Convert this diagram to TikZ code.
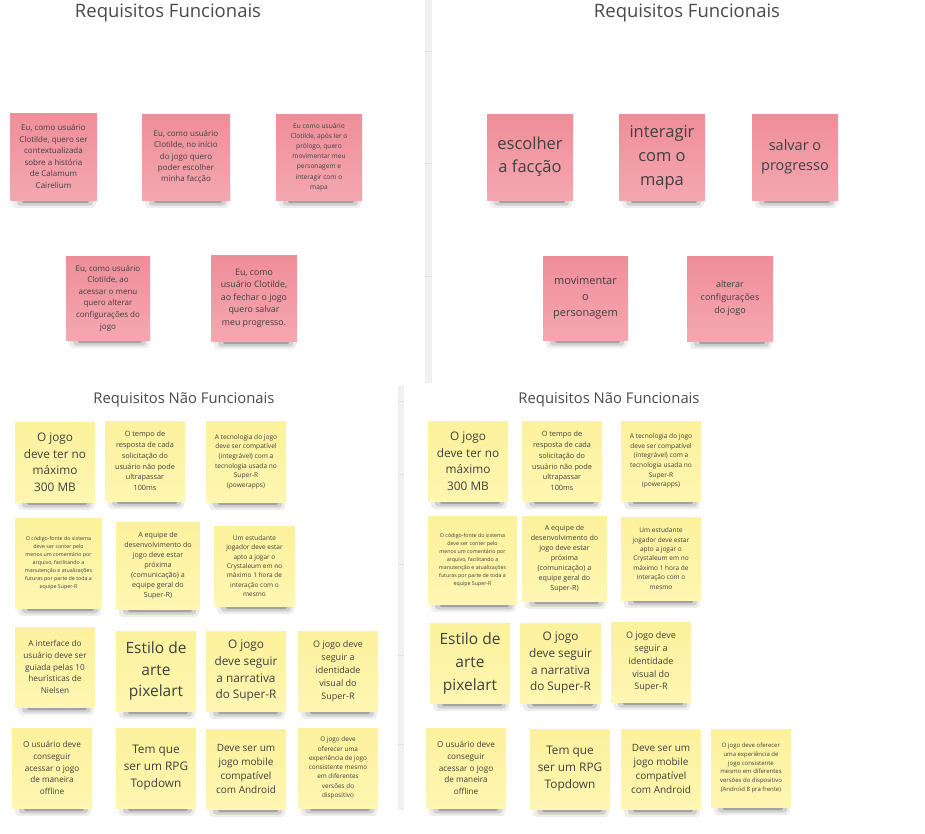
\documentclass[tikz,border=0pt]{standalone}
\usepackage{fontspec}
\setmainfont{Open Sans}
\definecolor{txtc}{HTML}{404040}
\definecolor{pinktop}{HTML}{EF8E99}
\definecolor{pinkbot}{HTML}{F4A7B0}
\definecolor{yeltop}{HTML}{FCF19C}
\definecolor{yelbot}{HTML}{FEF6B2}
\definecolor{divc}{HTML}{F0F0F0}
\definecolor{tickc}{HTML}{E0E0E0}
\definecolor{titlec}{HTML}{4A4A4A}
\tikzset{
  pinknote/.style={top color=pinktop,bottom color=pinkbot},
  yelnote/.style={top color=yeltop,bottom color=yelbot},
  title/.style={font=\fontsize{#1}{#1}\selectfont,text=titlec,inner sep=0pt},
}
\newcommand\note[9]{%
  \fill[black,opacity=0.07,rounded corners=4pt] ({#2+3},{#5-3}) rectangle ({#4-1},{#5+8});
  \fill[black,opacity=0.12,rounded corners=3pt] ({#2+7},{#5-2}) rectangle ({#4-4},{#5+5.5});
  \fill[black,opacity=0.22,rounded corners=2pt] ({#2+12},{#5-1}) rectangle ({#4-8},{#5+3});
  \node[#6,draw=none,rectangle,inner sep=1pt,align=center,text=txtc,
        minimum width={(#4-#2)*1pt},minimum height={(#5-#3)*1pt},
        font=\fontsize{#7}{#8}\selectfont] (#1) at ({(#2+#4)/2},{(#3+#5)/2}) {#9};%
}
\begin{document}
\begin{tikzpicture}[x=1pt,y=-1pt]
\useasboundingbox (0,0) rectangle (925,833);
\fill[white] (0,0) rectangle (925,833);
% dividers
\fill[divc] (425,0) rectangle (432,383);
\foreach \yy in {51,163,276} \draw[tickc,line width=0.6pt] (425,\yy) -- (432,\yy);
\fill[divc] (398,386) rectangle (404,810);
\foreach \yy in {401,474,564,655,744} \draw[tickc,line width=0.6pt] (398,\yy) -- (404,\yy);
% titles
\node[title=18.5] (t1) at (168,13) {Requisitos Funcionais};
\node[title=18.5] (t2) at (687,13) {Requisitos Funcionais};
\node[title=14.8] (t3) at (184,400) {Requisitos Não Funcionais};
\node[title=14.8] (t4) at (609,400) {Requisitos Não Funcionais};
% top-left pink
\note{p1}{10}{113}{97}{200}{pinknote}{8}{11.5}{Eu, como usuário\\Clotilde, quero ser\\contextualizada\\sobre a história\\de Calamum\\Cairelium}
\note{p2}{142}{114}{230}{200}{pinknote}{8}{11.3}{Eu, como usuário\\Clotilde, no início\\do jogo quero\\poder escolher\\minha facção}
\note{p3}{276}{114}{362}{200}{pinknote}{6.6}{10.2}{Eu como usuário\\Clotilde, após ler o\\prólogo, quero\\movimentar meu\\personagem e\\interagir com o\\mapa}
\note{p4}{66}{256}{150}{340}{pinknote}{8}{11.6}{Eu, como usuário\\Clotilde, ao\\acessar o menu\\quero alterar\\configurações do\\jogo}
\note{p5}{211}{255}{297}{341}{pinknote}{8.8}{12.5}{Eu, como\\usuário Clotilde,\\ao fechar o jogo\\quero salvar\\meu progresso.}
% top-right pink
\note{p6}{487}{114}{573}{200}{pinknote}{16.5}{23}{escolher\\a facção}
\note{p7}{619}{114}{705}{200}{pinknote}{16.5}{24}{interagir\\com o\\mapa}
\note{p8}{752}{114}{838}{200}{pinknote}{14.5}{20}{salvar o\\progresso}
\note{p9}{543}{256}{628}{340}{pinknote}{11}{16}{movimentar\\o\\personagem}
\note{p10}{687}{256}{773}{341}{pinknote}{9}{13}{alterar\\configurações\\do jogo}
% bottom-left yellow
\note{a1}{15}{422}{95}{502}{yelnote}{11.8}{16.5}{O jogo\\deve ter no\\máximo\\300 MB}
\note{b1}{105}{421}{185}{501}{yelnote}{7.3}{10.7}{O tempo de\\resposta de cada\\solicitação do\\usuário não pode\\ultrapassar\\100ms}
\note{c1}{206}{421}{286}{502}{yelnote}{6.6}{9.6}{A tecnologia do jogo\\deve ser compatível\\(integrável) com a\\tecnologia usada no\\Super-R\\(powerapps)}
\note{d1}{15}{518}{102}{608}{yelnote}{5.3}{8}{O código-fonte do sistema\\deve ser conter pelo\\menos um comentário por\\arquivo, facilitando a\\manutenção e atualizações\\futuras por parte de toda a\\equipe Super-R}
\note{e1}{116}{522}{200}{609}{yelnote}{7.1}{10}{A equipe de\\desenvolvimento do\\jogo deve estar\\próxima\\(comunicação) a\\equipe geral do\\Super-R)}
\note{f1}{214}{526}{295}{606}{yelnote}{6.5}{9.4}{Um estudante\\jogador deve estar\\apto a jogar o\\Crystaleum em no\\máximo 1 hora de\\interação com o\\mesmo}
\note{g1}{15}{627}{95}{707}{yelnote}{8.2}{11.7}{A interface do\\usuário deve ser\\guiada pelas 10\\heurísticas de\\Nielsen}
\note{h1}{116}{631}{196}{711}{yelnote}{15.5}{21.7}{Estilo de\\arte\\pixelart}
\note{i1}{206}{631}{286}{711}{yelnote}{11.8}{16.7}{O jogo\\deve seguir\\a narrativa\\do Super-R}
\note{j1}{298}{631}{378}{711}{yelnote}{9}{13}{O jogo deve\\seguir a\\identidade\\visual do\\Super-R}
\note{k1}{12}{728}{92}{808}{yelnote}{8.2}{11.7}{O usuário deve\\conseguir\\acessar o jogo\\de maneira\\offline}
\note{l1}{116}{728}{196}{808}{yelnote}{11.8}{17}{Tem que\\ser um RPG\\Topdown}
\note{m1}{206}{729}{286}{809}{yelnote}{10}{14.3}{Deve ser um\\jogo mobile\\compatível\\com Android}
\note{n1}{298}{728}{378}{808}{yelnote}{6.4}{9.3}{O jogo deve\\oferecer uma\\experiência de jogo\\consistente mesmo\\em diferentes\\versões do\\dispositivo}
% bottom-right yellow
\note{a2}{428}{421}{508}{501}{yelnote}{11.8}{16.5}{O jogo\\deve ter no\\máximo\\300 MB}
\note{b2}{522}{421}{602}{501}{yelnote}{7.3}{10.7}{O tempo de\\resposta de cada\\solicitação do\\usuário não pode\\ultrapassar\\100ms}
\note{c2}{621}{421}{701}{501}{yelnote}{6.6}{9.6}{A tecnologia do jogo\\deve ser compatível\\(integrável) com a\\tecnologia usada no\\Super-R\\(powerapps)}
\note{d2}{428}{516}{517}{604}{yelnote}{5.3}{8}{O código-fonte do sistema\\deve ser conter pelo\\menos um comentário por\\arquivo, facilitando a\\manutenção e atualizações\\futuras por parte de toda a\\equipe Super-R}
\note{e2}{522}{516}{607}{601}{yelnote}{7.1}{10}{A equipe de\\desenvolvimento do\\jogo deve estar\\próxima\\(comunicação) a\\equipe geral do\\Super-R)}
\note{f2}{621}{517}{701}{600}{yelnote}{6.5}{9.4}{Um estudante\\jogador deve estar\\apto a jogar o\\Crystaleum em no\\máximo 1 hora de\\interação com o\\mesmo}
\note{h2}{430}{623}{510}{703}{yelnote}{15.5}{23}{Estilo de\\arte\\pixelart}
\note{i2}{520}{623}{601}{703}{yelnote}{11.8}{16.7}{O jogo\\deve seguir\\a narrativa\\do Super-R}
\note{j2}{611}{622}{691}{702}{yelnote}{9}{12.7}{O jogo deve\\seguir a\\identidade\\visual do\\Super-R}
\note{k2}{426}{728}{506}{808}{yelnote}{8.2}{11.7}{O usuário deve\\conseguir\\acessar o jogo\\de maneira\\offline}
\note{l2}{530}{729}{610}{809}{yelnote}{11.8}{17}{Tem que\\ser um RPG\\Topdown}
\note{m2}{621}{729}{701}{809}{yelnote}{10}{14.3}{Deve ser um\\jogo mobile\\compatível\\com Android}
\note{n2}{711}{729}{791}{807}{yelnote}{6}{8.7}{O jogo deve oferecer\\uma experiência de\\jogo consistente\\mesmo em diferentes\\versões do dispositivo\\(Android 8 pra frente)}
\end{tikzpicture}
\end{document}
